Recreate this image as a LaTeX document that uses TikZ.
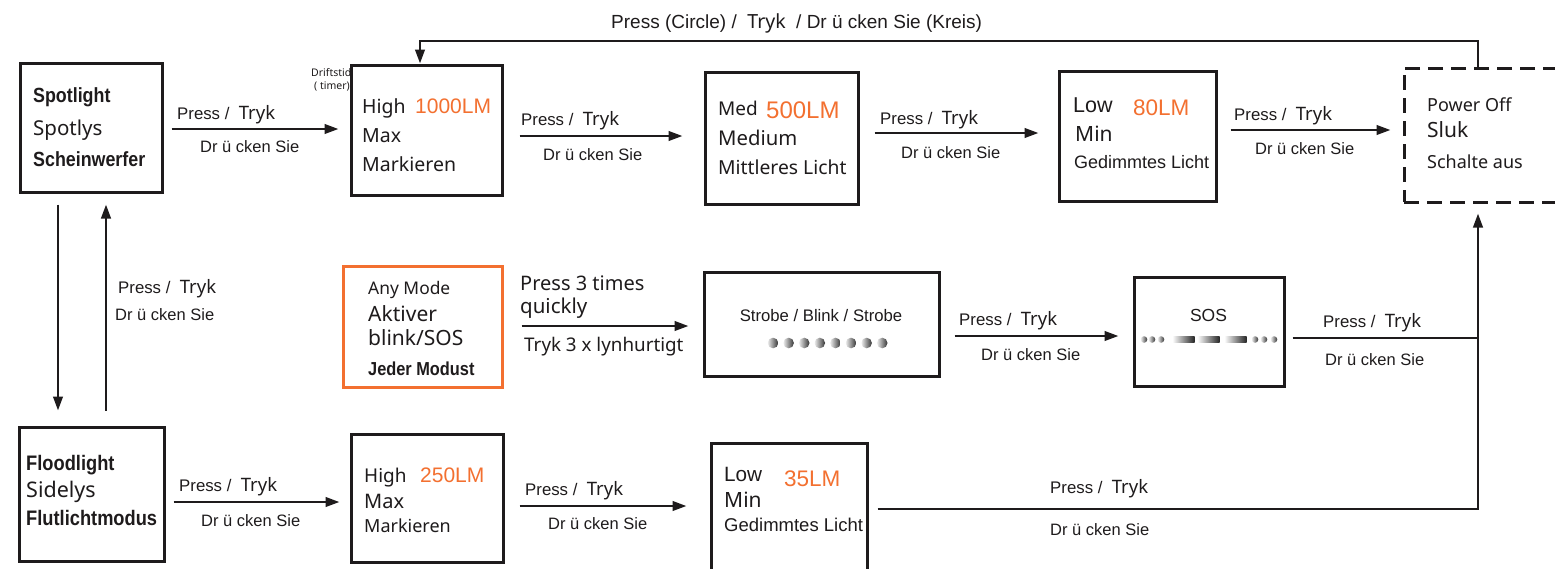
\documentclass[tikz,border=0pt]{standalone}
\usepackage{fontspec}
\setmainfont{Liberation Sans}
\newfontfamily\ns{Noto Sans}
\newfontfamily\hb[FakeStretch=0.87]{Liberation Sans}
\usetikzlibrary{arrows.meta}
\definecolor{ink}{RGB}{30,27,28}
\definecolor{orng}{RGB}{243,112,48}
\newcommand\fsz[1]{\fontsize{#1}{#1}\selectfont}
\newcommand\prtr{{\fsz{16.8}Press /\ \ {\ns\fsz{18.5}Tryk}}}
\newcommand\drk{{\fsz{16.5}Dr ü cken Sie}}
\begin{document}
\begin{tikzpicture}[x=1pt,y=-1pt,
  box/.style={draw=ink, line width=3pt, fill=white, inner sep=0pt},
  arr/.style={draw=ink, line width=2.5pt, -{Triangle[length=14pt,width=9.5pt]}},
  ln/.style={draw=ink, line width=2.5pt},
  t/.style={anchor=base west, inner sep=0pt, text=ink},
  tc/.style={anchor=base, inner sep=0pt, text=ink},
  oc/.style={anchor=base west, inner sep=0pt, text=orng}]
\useasboundingbox (0,0) rectangle (1555,568);

% small note behind the first box
\node[t] (dr1) at (311,76) {\ns\fsz{10.5}Driftstid};
\node[t] (dr2) at (314,89.5) {\ns\fsz{10.5}( timer)};

% boxes
\node[box, minimum width=142pt, minimum height=129pt] (spot) at (91,127.5) {};
\node[box, minimum width=151pt, minimum height=130pt] (hi1) at (426.5,130) {};
\node[box, minimum width=153pt, minimum height=132pt] (med) at (781.5,138) {};
\node[box, minimum width=157pt, minimum height=130pt] (low) at (1137.5,136) {};
\node[box, dash pattern=on 15pt off 8pt, minimum width=171pt, minimum height=134pt] (off) at (1489.5,135) {};
\node[box, draw=orng, minimum width=159pt, minimum height=121pt] (anym) at (422.5,326.5) {};
\node[box, minimum width=235pt, minimum height=104pt] (strobe) at (821.5,324) {};
\node[box, minimum width=150pt, minimum height=109pt] (sos) at (1209,331.5) {};
\node[box, minimum width=145pt, minimum height=134pt] (flood) at (91.5,494) {};
\node[box, minimum width=152pt, minimum height=128pt] (hi2) at (427,498) {};
\node[box, minimum width=156pt, minimum height=147pt] (low35) at (789,516.5) {};

% box texts
\node[t] (s1) at (33,102) {\hb\bfseries\fsz{20.5}Spotlight};
\node[t] (s2) at (33,135) {\ns\fsz{20.5}Spotlys};
\node[t] (s3) at (33,166) {\hb\bfseries\fsz{20.5}Scheinwerfer};

\node[t] (h1a) at (362,113) {\ns\fsz{19.5}High};
\node[oc] (h1b) at (415,113) {\fsz{21}1000LM};
\node[t] (h1c) at (362,142) {\ns\fsz{19.5}Max};
\node[t] (h1d) at (362,171) {\ns\fsz{19.5}Markieren};

\node[t] (m1a) at (718,115) {\ns\fsz{19}Med};
\node[oc] (m1b) at (766,118) {\fsz{24}500LM};
\node[t] (m1c) at (718,145) {\ns\fsz{20.3}Medium};
\node[t] (m1d) at (718,174) {\ns\fsz{19.3}Mittleres Licht};

\node[t] (l1a) at (1073,112.7) {\fsz{21.5}Low};
\node[oc] (l1b) at (1133,115) {\fsz{22.5}80LM};
\node[t] (l1c) at (1075,141.7) {\ns\fsz{21}Min};
\node[t] (l1d) at (1074,168) {\fsz{18}Gedimmtes Licht};

\node[t] (o1a) at (1427,111.7) {\ns\fsz{18}Power Off};
\node[t] (o1b) at (1427,137.7) {\ns\fsz{21}Sluk};
\node[t] (o1c) at (1427,168) {\ns\fsz{18}Schalte aus};

\node[t] (a1a) at (368,294) {\ns\fsz{17.4}Any Mode};
\node[t] (a1b) at (368,321.7) {\ns\fsz{21}Aktiver};
\node[t] (a1c) at (368,345) {\ns\fsz{21}blink/SOS};
\node[t] (a1d) at (368,375) {\hb\bfseries\fsz{18.8}Jeder Modust};

\node[tc] (st1) at (821,321) {\fsz{16.7}Strobe / Blink / Strobe};
\foreach \i in {0,...,7} {
  \shade[left color=gray!15, right color=black!80] (773+15.6*\i,343) circle (5.3pt);
}
\node[tc] (so1) at (1208.5,321.7) {\fsz{17.5}SOS};
\foreach \xx in {1144,1152,1161,1255,1264,1274} {
  \shade[left color=gray!15, right color=black!80] (\xx,339.5) circle (3.3pt);
}
\foreach \xx in {1173,1198,1225} {
  \shade[left color=gray!5, right color=black!85] (\xx,336.2) rectangle (\xx+21.5,342.8);
}

\node[t] (f1a) at (26,470.5) {\hb\bfseries\fsz{21}Floodlight};
\node[t] (f1b) at (26,497) {\ns\fsz{21.5}Sidelys};
\node[t] (f1c) at (26,525) {\hb\bfseries\fsz{21}Flutlichtmodus};

\node[t] (h2a) at (364,482) {\ns\fsz{19}High};
\node[oc] (h2b) at (420,482) {\fsz{21}250LM};
\node[t] (h2c) at (364,508) {\ns\fsz{20}Max};
\node[t] (h2d) at (364,532) {\ns\fsz{18}Markieren};

\node[t] (w1a) at (724,481) {\fsz{20.7}Low};
\node[oc] (w1b) at (784,486) {\fsz{22.5}35LM};
\node[t] (w1c) at (724,507.7) {\ns\fsz{21}Min};
\node[t] (w1d) at (724,531.7) {\fsz{18.5}Gedimmtes Licht};

% connector labels
\node[t] (lt) at (611,28) {\fsz{19}Press (Circle) /\ \ {\ns\fsz{19.5}Tryk}\ \ / Dr ü cken Sie (Kreis)};
\node[t] (p1) at (177,119) {\prtr};  \node[t] (d1) at (200,152) {\drk};
\node[t] (p2) at (521,125) {\prtr};  \node[t] (d2) at (543,160) {\drk};
\node[t] (p3) at (880,124) {\prtr};  \node[t] (d3) at (901,158) {\drk};
\node[t] (p4) at (1234,120) {\prtr}; \node[t] (d4) at (1255,154) {\drk};
\node[t] (p5) at (118,293) {\prtr};  \node[t] (d5) at (115,320) {\drk};
\node[t] (p6) at (179,491) {\prtr};  \node[t] (d6) at (201,526) {\drk};
\node[t] (p7) at (525,495) {\prtr};  \node[t] (d7) at (548,529) {\drk};
\node[t] (p8) at (1050,493) {\prtr}; \node[t] (d8) at (1050,535) {\drk};
\node[t] (p9) at (959,325) {\prtr};  \node[t] (d9) at (981,360) {\drk};
\node[t] (p10) at (1323,327) {\prtr}; \node[t] (d10) at (1325,365) {\drk};
\node[t] (q1) at (520,290) {\ns\fsz{20}Press 3 times};
\node[t] (q2) at (520,313) {\ns\fsz{20.5}quickly};
\node[t] (q3) at (524,351) {\ns\fsz{18.8}Tryk 3 x lynhurtigt};

% connectors
\coordinate (jt) at (1478,41);
\coordinate (jl) at (420,41);
\coordinate (j1) at (1478,509);
\coordinate (j2) at (1478,338);
\draw[arr] (off.north -| jt) -- (jt) -- (jl) -- (hi1.north -| jl);
\draw[arr, shorten <=8pt, shorten >=11pt] (spot.east |- 0,129) -- (hi1.west |- 0,129);
\draw[arr, shorten <=16pt, shorten >=21pt] (hi1.east |- 0,136) -- (med.west |- 0,136);
\draw[arr, shorten <=15pt, shorten >=19pt] (med.east |- 0,133) -- (low.west |- 0,133);
\draw[arr, shorten <=13pt, shorten >=12pt] (low.east |- 0,130) -- (off.west |- 0,130);
\draw[arr, shorten <=11pt, shorten >=15pt] (spot.south -| 58,0) -- (flood.north -| 58,0);
\draw[arr, shorten <=15pt, shorten >=11pt] (flood.north -| 106,0) -- (spot.south -| 106,0);
\draw[arr, shorten <=8pt, shorten >=10pt] (flood.east |- 0,502) -- (hi2.west |- 0,502);
\draw[arr, shorten <=15pt, shorten >=23pt] (hi2.east |- 0,506) -- (low35.west |- 0,506);
\draw[arr, shorten <=18pt, shorten >=14pt] (anym.east |- 0,326) -- (strobe.west |- 0,326);
\draw[arr, shorten <=14pt, shorten >=14pt] (strobe.east |- 0,336) -- (sos.west |- 0,336);
\draw[ln, shorten <=7pt] (sos.east |- j2) -- (j2);
\draw[arr, shorten <=9pt, shorten >=10pt] (low35.east |- j1) -- (j1) -- (off.south -| j1);
\end{tikzpicture}
\end{document}
